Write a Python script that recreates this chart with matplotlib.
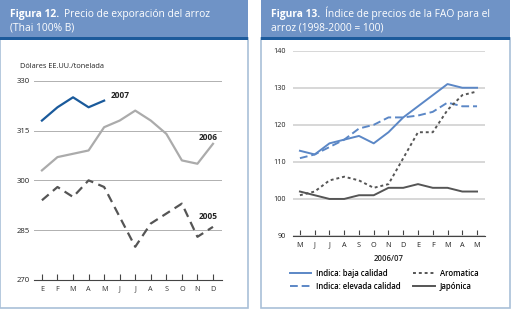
import matplotlib.pyplot as plt
from matplotlib.patches import Rectangle

plt.rcParams['font.family'] = ['Open Sans', 'DejaVu Sans']

# data: export price of rice (Thai 100% B)
meses_12 = ['E', 'F', 'M', 'A', 'M', 'J', 'J', 'A', 'S', 'O', 'N', 'D']
precio_2007 = [318, 322, 325, 322, 324]
precio_2006 = [303, 307, 308, 309, 316, 318, 321, 318, 314, 306, 305, 311]
precio_2005 = [294, 298, 295, 300, 298, 289, 280, 287, 290, 293, 283, 286]

# data: FAO rice price index (1998-2000 = 100)
meses_13 = ['M', 'J', 'J', 'A', 'S', 'O', 'N', 'D', 'E', 'F', 'M', 'A', 'M']
indica_baja = [113, 112, 115, 116, 117, 115, 118, 122, 125, 128, 131, 130, 130]
indica_elevada = [111, 112, 114, 116, 119, 120, 122, 122, 122.5, 123.5, 126, 125, 125]
aromatica = [101, 102, 105, 106, 105, 103, 104, 111, 118, 118, 124, 128, 129]
japonica = [102, 101, 100, 100, 101, 101, 103, 103, 104, 103, 103, 102, 102]

W, H = 511, 309
fig = plt.figure(figsize=(W / 100, H / 100), dpi=100)

def fx(x):
    return x / W

def fy(y):
    return 1 - y / H

header_col = '#6f93c6'
bar_col = '#1d5b9c'
border_col = '#a9c0d8'

# panels with header band (behind the axes)
for x0, x1 in [(0, 248), (261, 510)]:
    fig.patches.append(Rectangle((fx(x0), fy(308)), fx(x1 - x0), (308 - 38) / H,
                                 transform=fig.transFigure, facecolor='white',
                                 edgecolor=border_col, linewidth=1.2, zorder=-5))
    fig.patches.append(Rectangle((fx(x0), fy(37)), fx(x1 - x0), 37 / H,
                                 transform=fig.transFigure, facecolor=header_col,
                                 edgecolor='none', zorder=-4))
    fig.patches.append(Rectangle((fx(x0), fy(40)), fx(x1 - x0), 3 / H,
                                 transform=fig.transFigure, facecolor=bar_col,
                                 edgecolor='none', zorder=-4))

# titles: bold "Figura N." followed by the regular text
tfs = 7.4
renderer = fig.canvas.get_renderer()
for x0, fig_lbl, line1, line2 in [(10, 'Figura 12.', 'Precio de exporación del arroz', '(Thai 100% B)'),
                                  (271, 'Figura 13.', 'Índice de precios de la FAO para el', 'arroz (1998-2000 = 100)')]:
    t = fig.text(fx(x0), fy(17), fig_lbl, color='white', fontsize=tfs, weight='bold', va='baseline')
    x_end = t.get_window_extent(renderer).x1
    fig.text(x_end / W + fx(5), fy(17), line1, color='white', fontsize=tfs, va='baseline')
    fig.text(fx(x0), fy(30), line2, color='white', fontsize=tfs, va='baseline')

# ---------- left chart ----------
ax1 = fig.add_axes([fx(34), fy(280), fx(222 - 34), (280 - 80.7) / H])
x12 = list(range(12))
ax1.plot(x12[:5], precio_2007, color='#1a5a9b', lw=1.6)
ax1.plot(x12, precio_2006, color='#ababab', lw=1.6)
ax1.plot(x12, precio_2005, color='#555555', lw=1.6, dashes=(4, 2.5))
ax1.set_xlim(-0.51, 11.58)
ax1.set_ylim(270, 330)
ax1.set_yticks([270, 285, 300, 315, 330])
ax1.set_xticks(x12)
ax1.set_xticklabels(meses_12)
ax1.grid(axis='y', color='#b0b0b0', lw=0.7)
ax1.set_axisbelow(True)
for s in ['top', 'right', 'left']:
    ax1.spines[s].set_visible(False)
ax1.spines['bottom'].set_color('#444444')
ax1.spines['bottom'].set_linewidth(0.8)
ax1.tick_params(axis='y', length=0, labelsize=5.6, pad=3, labelcolor='#222222')
ax1.tick_params(axis='x', direction='in', length=4, width=0.8, color='#444444',
                labelsize=5.2, pad=4, labelcolor='#333333')
ax1.set_facecolor('none')
ax1.text(4.4, 325.5, '2007', fontsize=6, weight='bold', color='#222222', va='center')
ax1.text(11.3, 313, '2006', fontsize=6, weight='bold', color='#222222', ha='right', va='center')
ax1.text(11.3, 289, '2005', fontsize=6, weight='bold', color='#222222', ha='right', va='center')
fig.text(fx(20), fy(68), 'Dólares EE.UU./tonelada', fontsize=5.3, color='#222222', va='baseline')

# ---------- right chart ----------
ax2 = fig.add_axes([fx(293), fy(236), fx(485 - 293), (236 - 50.7) / H])
x13 = list(range(13))
blue = '#5b87c6'
l1, = ax2.plot(x13, indica_baja, color=blue, lw=1.4, label='Indica: baja calidad')
l2, = ax2.plot(x13, indica_elevada, color=blue, lw=1.4, dashes=(4, 2), label='Indica: elevada calidad')
l3, = ax2.plot(x13, aromatica, color='#555555', lw=1.4, dashes=(1.5, 1.5), label='Aromatica')
l4, = ax2.plot(x13, japonica, color='#555555', lw=1.4, label='Japónica')
ax2.set_xlim(-0.47, 12.54)
ax2.set_ylim(90, 140)
ax2.set_yticks([90, 100, 110, 120, 130, 140])
ax2.set_xticks(x13)
ax2.set_xticklabels(meses_13)
ax2.grid(axis='y', color='#d4d4d4', lw=1.3)
ax2.set_axisbelow(True)
for s in ['top', 'right', 'left']:
    ax2.spines[s].set_visible(False)
ax2.spines['bottom'].set_color('#444444')
ax2.spines['bottom'].set_linewidth(0.8)
ax2.tick_params(axis='y', length=0, labelsize=5.2, pad=5, labelcolor='#222222')
ax2.tick_params(axis='x', direction='in', length=4, width=0.8, color='#444444',
                labelsize=5.2, pad=4, labelcolor='#222222')
ax2.set_facecolor('none')
ax2.set_xlabel('2006/07', fontsize=5.6, color='#222222', labelpad=4, weight='semibold')
fig.legend(handles=[l1, l2, l3, l4], ncol=2, frameon=False,
           prop={'size': 5.6, 'weight': 'semibold'},
           loc='center', bbox_to_anchor=(fx(384), fy(280)),
           handlelength=2.8, columnspacing=1.55, handletextpad=0.64, labelspacing=0.5)

fig.savefig('out.png', dpi=100)
